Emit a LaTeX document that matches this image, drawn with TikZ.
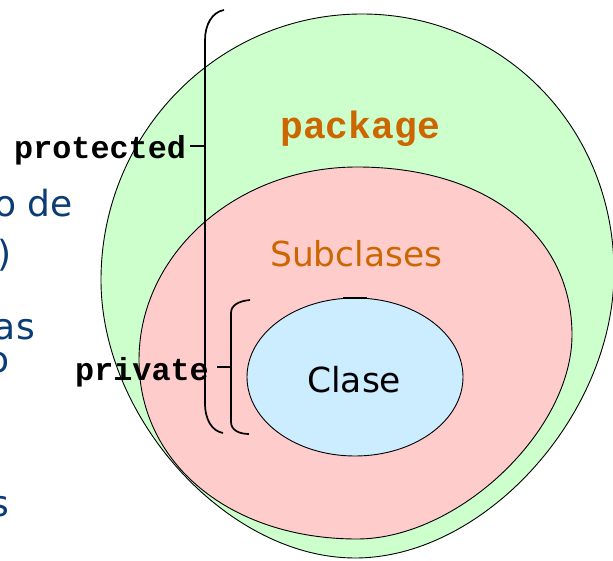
\documentclass[tikz,border=0pt]{standalone}
\usepackage{fontspec}
\newfontfamily\sansfont{DejaVu Sans}
\newfontfamily\monofont{Liberation Mono}
\definecolor{pkggreen}{RGB}{204,255,204}
\definecolor{subpink}{RGB}{255,204,204}
\definecolor{clsblue}{RGB}{204,236,255}
\definecolor{accent}{RGB}{204,102,0}
\definecolor{slideblue}{RGB}{10,60,120}
\tikzset{
  scopeshape/.style={draw=black, line width=0.9pt},
  bracket/.style={draw=black, line width=1.7pt},
  codelabel/.style={inner sep=0pt, font=\monofont\bfseries\fontsize{31.8}{36}\selectfont},
  bodytext/.style={inner sep=0pt, text=slideblue, font=\sansfont\fontsize{36}{40}\selectfont},
}
\begin{document}
\begin{tikzpicture}[x=1pt, y=-1pt]
\clip (0,0) rectangle (613,561);
\fill[white] (0,0) rectangle (613,561);

% package scope: near-elliptic outline, one Bezier arc per quadrant
\path[scopeshape, fill=pkggreen]
  (362,14) .. controls (503.1,14) and (614,127.5) .. (614,272)
  .. controls (614,415) and (484.5,558) .. (355,558)
  .. controls (228,558) and (101,419) .. (101,280)
  .. controls (101,133.2) and (217.9,14) .. (362,14) -- cycle;

% subclass scope
\path[scopeshape, fill=subpink]
  (357,167) .. controls (486,167) and (572,234.2) .. (572,335)
  .. controls (572,430.9) and (458,539) .. (357,539)
  .. controls (230.6,539) and (139,463.8) .. (139,360)
  .. controls (139,253.5) and (236.7,167) .. (357,167) -- cycle;

% class scope
\path[scopeshape, fill=clsblue] (355,377) ellipse [x radius=108, y radius=79];
\draw[line width=2pt] (343,298) -- (367,298);

% scope names
\node[inner sep=0pt, anchor=base west, text=accent, font=\monofont\bfseries\fontsize{38}{42}\selectfont] (pkg) at (280,139) {package};
\node[inner sep=0pt, anchor=base west, text=accent, font=\sansfont\fontsize{34.4}{40}\selectfont] (sub) at (270,267) {Subclases};
\node[inner sep=0pt, anchor=base west, font=\sansfont\fontsize{34.5}{40}\selectfont] (cls) at (307,392) {Clase};

% access brackets
\coordinate (ptop) at (224,10);
\coordinate (pbot) at (223,433);
\coordinate (ptick) at (205,146);
\draw[bracket] (ptop) .. controls (212,12) and (205,25) .. (205,40) -- (205,403)
  .. controls (205,420) and (212,431) .. (pbot);
\draw[bracket] (190,146) -- (ptick);

\coordinate (vtop) at (250,300);
\coordinate (vbot) at (249,434);
\coordinate (vtick) at (231,367);
\draw[bracket] (vtop) .. controls (239,301) and (231,305) .. (231,313) -- (231,422)
  .. controls (231,430) and (239,434) .. (vbot);
\draw[bracket] (217,367) -- (vtick);

\node[codelabel, anchor=base west] (prot) at (14,159) {protected};
\node[codelabel, anchor=base west] (priv) at (75,380) {private};

% body text running in from the left
\node[bodytext, anchor=base east] (l1) at (73,217) {o de};
\node[bodytext, anchor=base east] (l2) at (12,267) {)};
\node[bodytext, anchor=base east] (l3) at (35,339) {as};
\node[bodytext, anchor=base east] (l4) at (10,372) {o};
\node[bodytext, anchor=base east] (l5) at (9,516) {s};
\end{tikzpicture}
\end{document}
